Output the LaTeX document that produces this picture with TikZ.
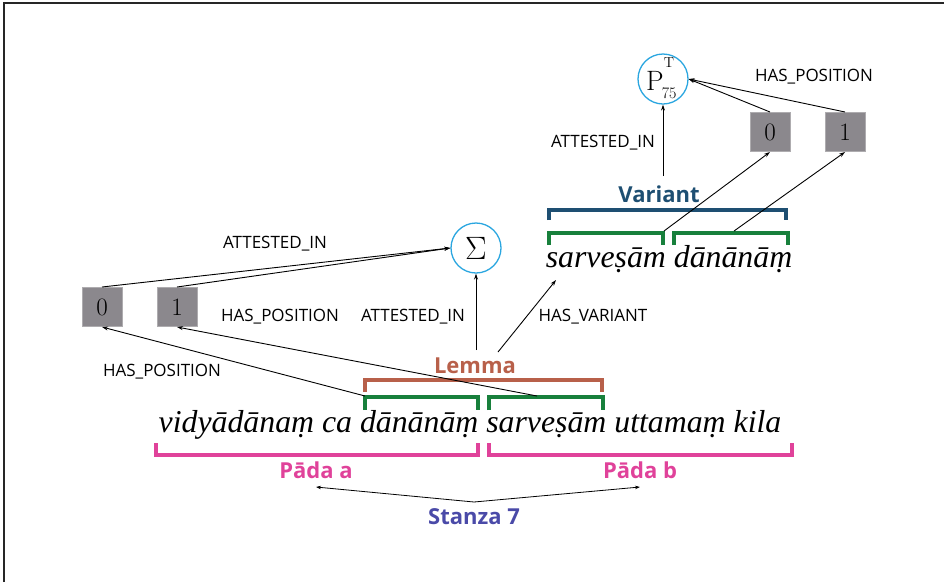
\documentclass[tikz,border=0pt]{standalone}
\usepackage{fontspec}
\newfontfamily\labelfont{Open Sans}
\newfontfamily\versefont{Liberation Serif}
\usetikzlibrary{arrows.meta}

\definecolor{padapink}{RGB}{224,66,154}
\definecolor{lemmabrown}{RGB}{184,96,74}
\definecolor{tokengreen}{RGB}{24,128,60}
\definecolor{variantblue}{RGB}{30,79,114}
\definecolor{stanzablue}{RGB}{74,74,168}
\definecolor{nodecyan}{RGB}{42,166,224}
\definecolor{posgray}{RGB}{139,136,141}

% witness siglum: large P with raised T and lowered 75
\newcommand{\ptsiglum}{%
  {\fontsize{28}{30}\selectfont P}%
  \rlap{\raisebox{23pt}{\fontsize{14.5}{15}\selectfont T}}%
  \kern-2pt\raisebox{-8pt}{\fontsize{16}{17}\selectfont 75}}

\begin{document}
\begin{tikzpicture}[x=1pt,y=-1pt,
  edgelbl/.style={font=\labelfont\fontsize{17}{19}\selectfont, inner sep=0pt},
  grouplbl/.style={font=\labelfont\bfseries\fontsize{22}{24}\selectfont, inner sep=0pt},
  verse/.style={font=\versefont\itshape\fontsize{31.8}{36}\selectfont, inner sep=0pt},
  posbox/.style={draw=posgray!70!white, fill=posgray, line width=1pt,
    minimum width=40pt, minimum height=39pt, inner sep=0pt,
    font=\fontsize{25}{27}\selectfont},
  witness/.style={circle, draw=nodecyan, line width=1.3pt, fill=white,
    minimum size=50pt, inner sep=0pt, font=\fontsize{24.88}{28}\selectfont},
  rel/.style={-{Stealth[length=6pt,width=4pt]}, line width=0.9pt, black},
  brk/.style={line width=3.5pt},
]
\useasboundingbox (0,0) rectangle (944,582);
% page frame
\draw[line width=1.3pt, black!85] (4,582) -- (4,3) -- (944,3);

% verse line
\node[verse] (verseline) at (470,425) {vidyādānaṃ ca dānānāṃ sarveṣām uttamaṃ kila};
\node[verse] (variantline) at (669,259) {sarveṣām dānānāṃ};

% pada brackets
\draw[brk, padapink] (156,443) -- (156,455) -- (478,455) -- (478,443);
\draw[brk, padapink] (489,443) -- (489,455) -- (792,455) -- (792,443);
\node[grouplbl, text=padapink] (padaa) at (316,470) {Pāda a};
\node[grouplbl, text=padapink] (padab) at (640,470) {Pāda b};
\node[grouplbl, text=stanzablue] (stanza) at (474,517) {Stanza 7};
\coordinate (stanzatop) at (474,502);
\draw[rel, line width=0.8pt, -{Stealth[length=5pt,width=3.5pt]}] (stanzatop) -- (316,487);
\draw[rel, line width=0.8pt, -{Stealth[length=5pt,width=3.5pt]}] (stanzatop) -- (640,487);

% lemma brackets
\draw[brk, lemmabrown] (365,392) -- (365,380) -- (602,380) -- (602,392);
\node[grouplbl, text=lemmabrown] (lemma) at (475,366) {Lemma};
\draw[brk, tokengreen, line width=4.5pt] (365,410) -- (365,397) -- (478,397) -- (478,410);
\draw[brk, tokengreen, line width=4.5pt] (489,410) -- (489,397) -- (603,397) -- (603,410);
\coordinate (lemtokA) at (365,396);
\coordinate (lemtokB) at (537,396);

% variant brackets
\draw[brk, variantblue] (549,220) -- (549,210) -- (786,210) -- (786,220);
\node[grouplbl, text=variantblue] (variant) at (659,194) {Variant};
\draw[brk, tokengreen, line width=4.5pt] (549,245) -- (549,233) -- (663,233) -- (663,245);
\draw[brk, tokengreen, line width=4.5pt] (674,245) -- (674,233) -- (788,233) -- (788,245);
\coordinate (vartokA) at (664,231);
\coordinate (vartokB) at (734,231);

% witnesses and positions
\node[witness] (sigma) at (476,248) {\scalebox{1.3}{$\Sigma$}};
\node[witness] (ptwit) at (663,79) {};
\node[inner sep=0pt, anchor=base west] (ptlabel) at (646,90) {\ptsiglum};
\node[posbox] (lpos0) at (102,307) {0};
\node[posbox] (lpos1) at (177,307) {1};
\node[posbox] (rpos0) at (770,132) {0};
\node[posbox] (rpos1) at (845,132) {1};

% relations of the lemma
\draw[rel] (lpos0.north) -- (sigma.west);
\draw[rel] (lpos1.north) -- (sigma.west);
\draw[rel] (lemtokA) -- (lpos0.south);
\draw[rel] (lemtokB) -- (lpos1.south);
\coordinate (lemmaup) at (476,350);
\draw[rel] (lemmaup) -- (sigma.south);
\coordinate (varfrom) at (498,352);
\coordinate (varto) at (556,280);
\draw[rel] (varfrom) -- (varto);

% relations of the variant
\coordinate (variantup) at (663,176);
\draw[rel] (variantup) -- (ptwit.south);
\draw[rel] (vartokA) -- (rpos0.south);
\draw[rel] (vartokB) -- (rpos1.south);
\draw[rel] (rpos0.north) -- (ptwit.east);
\draw[rel] (rpos1.north) -- (ptwit.east);

% edge labels
\node[edgelbl] (lblA) at (275,244) {ATTESTED\_IN};
\node[edgelbl] (lblB) at (280,317) {HAS\_POSITION};
\node[edgelbl] (lblC) at (413,317) {ATTESTED\_IN};
\node[edgelbl] (lblD) at (162,372) {HAS\_POSITION};
\node[edgelbl] (lblE) at (593,317) {HAS\_VARIANT};
\node[edgelbl] (lblF) at (603,143) {ATTESTED\_IN};
\node[edgelbl] (lblG) at (814,77) {HAS\_POSITION};
\end{tikzpicture}
\end{document}
